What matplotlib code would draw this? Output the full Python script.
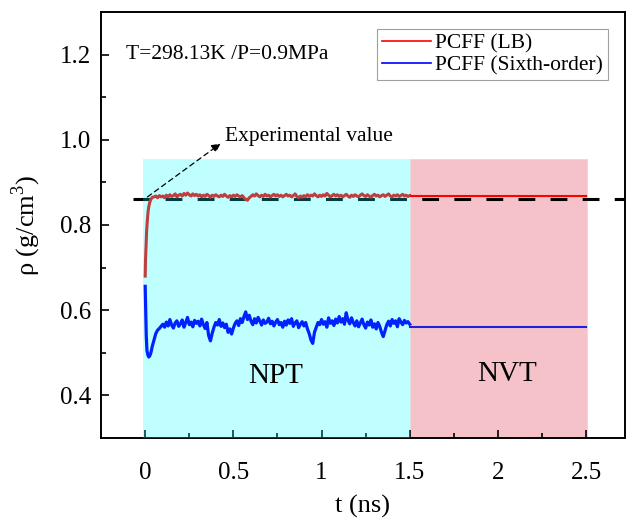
import numpy as np
import matplotlib
matplotlib.use('Agg')
import matplotlib.pyplot as plt
from matplotlib.patches import Rectangle

plt.rcParams['font.family'] = ['Liberation Serif', 'DejaVu Serif']
plt.rcParams['mathtext.fontset'] = 'custom'
plt.rcParams['mathtext.rm'] = 'Liberation Serif'

# early transient (NPT start)
t_early_blue = [0, 0.003, 0.006, 0.01, 0.015, 0.02, 0.025, 0.03, 0.035, 0.04,
                0.05, 0.06, 0.07, 0.08, 0.09]
rho_early_blue = [0.656, 0.600, 0.540, 0.505, 0.495, 0.490, 0.492, 0.497, 0.505, 0.515,
                  0.530, 0.545, 0.553, 0.557, 0.562]
t_early_red = [0, 0.002, 0.005, 0.008, 0.012, 0.016, 0.02, 0.025, 0.03, 0.035,
               0.04, 0.05, 0.06, 0.07, 0.08, 0.09]
rho_early_red = [0.680, 0.720, 0.750, 0.785, 0.810, 0.830, 0.842, 0.852, 0.858, 0.862,
                 0.865, 0.866, 0.868, 0.864, 0.869, 0.866]

# NPT, t = 0.10 ... 1.50 ns every 0.01 ns
t_npt = np.round(np.arange(0.10, 1.505, 0.01), 2)
rho_blue_npt = [
    0.567, 0.560, 0.572, 0.563, 0.578, 0.565, 0.558, 0.570, 0.575, 0.562,
    0.568, 0.577, 0.560, 0.571, 0.583, 0.566, 0.572, 0.561, 0.576, 0.569,
    0.574, 0.563, 0.579, 0.566, 0.557, 0.571, 0.540, 0.528, 0.546, 0.560,
    0.571, 0.565, 0.578, 0.562, 0.570, 0.559, 0.567, 0.548, 0.556, 0.544,
    0.558, 0.569, 0.575, 0.564, 0.580, 0.571, 0.585, 0.596, 0.578, 0.588,
    0.574, 0.566, 0.580, 0.570, 0.583, 0.575, 0.565, 0.577, 0.569, 0.572,
    0.581, 0.568, 0.574, 0.563, 0.572, 0.578, 0.566, 0.571, 0.560, 0.574,
    0.565, 0.577, 0.569, 0.580, 0.562, 0.570, 0.575, 0.559, 0.567, 0.573,
    0.563, 0.571, 0.556, 0.545, 0.530, 0.522, 0.548, 0.560, 0.571, 0.566,
    0.578, 0.567, 0.573, 0.560, 0.582, 0.569, 0.575, 0.564, 0.579, 0.570,
    0.585, 0.572, 0.580, 0.567, 0.594, 0.576, 0.568, 0.582, 0.571, 0.563,
    0.575, 0.561, 0.570, 0.579, 0.566, 0.558, 0.572, 0.565, 0.577, 0.560,
    0.568, 0.556, 0.571, 0.562, 0.548, 0.538, 0.552, 0.566, 0.574, 0.563,
    0.578, 0.569, 0.575, 0.561, 0.580, 0.572, 0.566, 0.576, 0.570, 0.573, 0.567]
rho_red_npt = [
    0.868, 0.864, 0.870, 0.866, 0.871, 0.867, 0.869, 0.873, 0.866, 0.870,
    0.872, 0.868, 0.874, 0.870, 0.875, 0.871, 0.868, 0.873, 0.869, 0.872,
    0.868, 0.871, 0.866, 0.870, 0.867, 0.872, 0.869, 0.865, 0.870, 0.867,
    0.871, 0.868, 0.866, 0.870, 0.867, 0.872, 0.868, 0.865, 0.869, 0.866,
    0.870, 0.867, 0.871, 0.868, 0.866, 0.869, 0.864, 0.860, 0.858, 0.864,
    0.867, 0.871, 0.868, 0.873, 0.869, 0.866, 0.870, 0.867, 0.872, 0.868,
    0.870, 0.866, 0.869, 0.872, 0.868, 0.871, 0.867, 0.870, 0.866, 0.869,
    0.872, 0.868, 0.870, 0.866, 0.869, 0.873, 0.867, 0.864, 0.868, 0.865,
    0.869, 0.866, 0.871, 0.867, 0.870, 0.868, 0.873, 0.869, 0.866, 0.870,
    0.867, 0.871, 0.868, 0.874, 0.870, 0.866, 0.869, 0.872, 0.868, 0.871,
    0.867, 0.870, 0.866, 0.869, 0.872, 0.868, 0.865, 0.870, 0.867, 0.871,
    0.868, 0.866, 0.870, 0.873, 0.869, 0.867, 0.871, 0.868, 0.865, 0.869,
    0.872, 0.868, 0.870, 0.866, 0.869, 0.871, 0.867, 0.870, 0.873, 0.868,
    0.866, 0.870, 0.868, 0.871, 0.867, 0.869, 0.872, 0.868, 0.870, 0.867, 0.869]

# NVT, flat
t_nvt = [1.5, 2.5]
rho_red_nvt = [0.869, 0.869]
rho_blue_nvt = [0.561, 0.561]

rho_exp = 0.862

t_red = list(t_early_red) + list(t_npt)
r_red = rho_early_red + rho_red_npt
t_blue = list(t_early_blue) + list(t_npt)
r_blue = rho_early_blue + rho_blue_npt

fig = plt.figure(figsize=(6.28, 5.22), dpi=100)
ax = fig.add_axes([0.161, 0.161, 0.834, 0.816])

# pink NVT region under the lines
ax.add_patch(Rectangle((1.5, 0.3), 1.005, 0.656, facecolor='#f5c2c9',
                       edgecolor='#dddddd', lw=0.6, zorder=0))

ax.plot([-0.07, 2.75], [rho_exp, rho_exp], color='black', lw=2.2,
        dashes=(5.5, 5), zorder=2)
ax.plot(t_red, r_red, color='red', lw=2.2, zorder=3)
ax.plot(t_nvt, rho_red_nvt, color='red', lw=1.5, zorder=3)

# cyan NPT region, translucent on top of red/dash
ax.add_patch(Rectangle((-0.01, 0.3), 1.51, 0.656, facecolor='#00ffff',
                       alpha=0.25, edgecolor='none', zorder=4))

ax.plot(t_blue, r_blue, color='#0022ff', lw=2.3, zorder=5)
ax.plot(t_nvt, rho_blue_nvt, color='#2020e0', lw=1.5, zorder=5)

# legend handles
ax.plot([], [], color='red', lw=1.2, label='PCFF (LB)')
ax.plot([], [], color='blue', lw=1.2, label='PCFF (Sixth-order)')
leg = ax.legend(loc='upper right', fontsize=15.5, frameon=True, fancybox=False,
                edgecolor='#888888', handlelength=2.3, handletextpad=0.2,
                borderpad=0.2, labelspacing=0.1, borderaxespad=0.8)
leg.get_frame().set_linewidth(0.8)
leg.set_zorder(10)

ax.text(-0.11, 1.2, 'T=298.13K /P=0.9MPa', fontsize=15.5, va='center', ha='left')
ax.annotate('Experimental value', xy=(0.44, 0.997), xytext=(0.455, 1.007),
            fontsize=15.5, va='center', ha='left')
ax.annotate('', xy=(0.44, 0.995), xytext=(0.0, rho_exp),
            arrowprops=dict(arrowstyle='-|>', linestyle=(0, (4, 3)), lw=0.9,
                            color='black', mutation_scale=13), zorder=6)
ax.text(0.74, 0.445, 'NPT', fontsize=21, ha='center', va='center', zorder=6)
ax.text(2.05, 0.45, 'NVT', fontsize=21, ha='center', va='center', zorder=6)

ax.set_xlim(-0.25, 2.72)
ax.set_ylim(0.3, 1.3)
ax.set_xticks([0, 0.5, 1, 1.5, 2, 2.5])
ax.set_xticklabels(['0', '0.5', '1', '1.5', '2', '2.5'])
ax.set_xticks(np.arange(0.25, 2.6, 0.5), minor=True)
ax.set_yticks([0.4, 0.6, 0.8, 1.0, 1.2])
ax.set_yticks([0.5, 0.7, 0.9, 1.1], minor=True)
ax.tick_params(which='both', direction='in', labelsize=18, width=1.2)
ax.tick_params(which='major', length=6)
ax.tick_params(which='minor', length=3.5)
ax.tick_params(axis='x', which='major', pad=17)
ax.tick_params(axis='y', which='major', pad=7)
for s in ax.spines.values():
    s.set_linewidth(1.4)

ax.set_xlabel('t (ns)', fontsize=19, labelpad=8)
ax.set_ylabel('ρ (g/cm$^3$)', fontsize=19, labelpad=12)

fig.savefig('out.png', dpi=100)
